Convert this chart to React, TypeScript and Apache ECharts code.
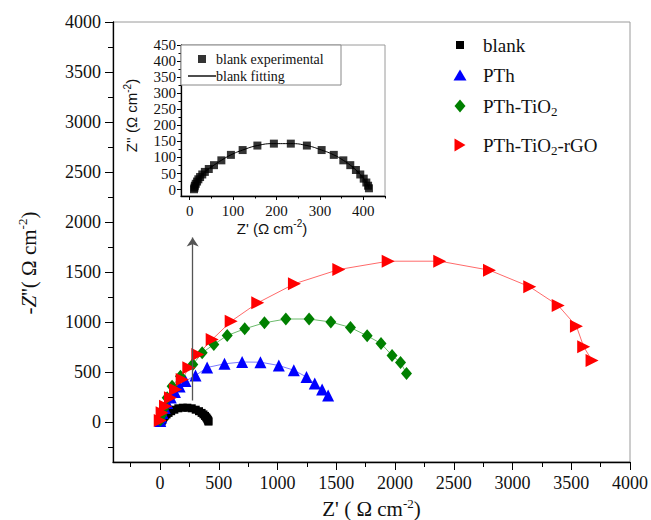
import React, { useEffect, useRef } from "react";
import * as echarts from "echarts";

// ---------- data (Z' , Z'') in Ω cm^-2 ----------
const blankExperimental: number[][] = [
  [10, 1], [11, 6], [12, 12], [14, 18], [17, 25], [20, 32], [24, 39], [29, 47], [35, 55], [44, 64],
  [56, 76], [73, 91], [95, 108], [122, 123], [156, 137], [194, 143], [233, 143], [270, 137],
  [304, 123], [332, 108], [354, 91], [370, 76], [383, 61], [393, 47], [401, 34], [407, 22],
  [411, 12], [413, 4],
];
const blankFitting: number[][] = [
  [10, 1], [12, 12], [17, 25], [24, 39], [35, 55], [56, 76], [73, 91], [95, 108], [122, 123],
  [156, 137], [194, 143], [233, 143], [270, 137], [304, 123], [332, 108], [354, 91], [370, 76],
  [383, 61], [393, 47], [401, 34], [407, 22], [411, 12], [413, 4],
];
const pth: number[][] = [
  [2, 10], [10, 45], [22, 90], [40, 140], [62, 190], [92, 245], [127, 300], [167, 355], [217, 410],
  [302, 465], [401, 545], [549, 582], [699, 600], [855, 598], [1011, 565], [1139, 518], [1247, 450],
  [1317, 385], [1380, 325], [1431, 265],
];
const pthTiO2: number[][] = [
  [3, 20], [15, 70], [32, 135], [61, 242], [103, 358], [174, 458], [279, 575], [359, 692], [458, 775],
  [572, 865], [721, 932], [889, 992], [1071, 1030], [1269, 1030], [1454, 1000], [1621, 945],
  [1763, 862], [1881, 785], [1975, 665], [2047, 595], [2098, 485],
];
const pthTiO2rGO: number[][] = [
  [2, 15], [18, 92], [47, 158], [89, 242], [132, 325], [189, 425], [245, 542], [322, 675], [444, 825],
  [606, 1008], [832, 1192], [1144, 1382], [1522, 1525], [1942, 1608], [2381, 1608], [2804, 1518],
  [3147, 1352], [3389, 1165], [3544, 958], [3606, 752], [3677, 615],
];
const arrowFrom = [278, 215];
const arrowTo = [278, 1845];

// ---------- ticks ----------
const mainTicks = [0, 500, 1000, 1500, 2000, 2500, 3000, 3500, 4000];
const mainMinor = [-250, 250, 750, 1250, 1750, 2250, 2750, 3250, 3750];
const insetXTicks = [0, 100, 200, 300, 400];
const insetXMinor = [50, 150, 250, 350, 450];
const insetYTicks = [0, 50, 100, 150, 200, 250, 300, 350, 400, 450];
const insetYMinor = [25, 75, 125, 175, 225, 275, 325, 375, 425];

const legendNames = ["blank", "PTh", "PTh-TiO2", "PTh-TiO2-rGO"];

const serif = "Liberation Serif";
const sans = "Liberation Sans";

function mkAxis(
  gridIndex: number, min: number, max: number, ticks: number[], position: string,
  isMinor: boolean, extra: any, labelSize: number, tickLen: number, margin: number
) {
  return {
    type: "value", gridIndex, min, max, position, offset: 0,
    axisLine: { show: !isMinor, onZero: false, lineStyle: { color: "#000", width: 1.3 } },
    axisTick: { show: true, inside: false, customValues: ticks, length: tickLen, lineStyle: { color: "#000", width: 1 } },
    axisLabel: isMinor
      ? { show: false }
      : {
          show: true, customValues: ticks, fontSize: labelSize, fontFamily: serif, color: "#111", margin,
          formatter: (v: number) => String(v),
        },
    splitLine: { show: false },
    ...extra,
  };
}

export default function App() {
  const ref = useRef<HTMLDivElement>(null);
  useEffect(() => {
    document.body.style.margin = "0";
    const chart = echarts.init(ref.current!, null, { renderer: "svg" });

    const supMain = { fontSize: 13, fontFamily: serif, padding: [0, 0, 12, 0], color: "#111" };
    const supInset = { fontSize: 10, fontFamily: sans, padding: [0, 0, 9, 0], color: "#111" };
    const subLegend = { fontSize: 13, fontFamily: serif, padding: [10, 0, 0, 0], color: "#111" };

    const legendLabel = (name: string) => {
      if (name === "PTh-TiO2") return "PTh-TiO{sub|2}";
      if (name === "PTh-TiO2-rGO") return "PTh-TiO{sub|2}-rGO";
      return name;
    };
    const legendCenters = [45, 75, 106, 145];
    const legendIcons = ["rect", "triangle", "diamond", "path://M0,0L11,6.5L0,13Z"];
    const legendIconW = [8, 13, 11, 11];
    const legendIconH = [8, 11, 13, 13];

    const mainLegends = legendNames.map((n, i) => ({
      data: [{ name: n, icon: legendIcons[i] }],
      left: 460 - legendIconW[i] / 2,
      top: legendCenters[i] - 11,
      padding: 0,
      itemWidth: legendIconW[i],
      itemHeight: legendIconH[i],
      formatter: legendLabel,
      textStyle: {
        fontSize: 19, fontFamily: serif, color: "#111", lineHeight: 22,
        padding: [0, 0, 0, 483 - (460 + legendIconW[i] / 2) - 5],
        rich: { sub: subLegend },
      },
    }));

    const option: any = {
      animation: false,
      backgroundColor: "#fff",
      textStyle: { fontFamily: serif },
      grid: [
        { left: 113, right: 21, top: 22, bottom: 58, show: true, borderColor: "#9a9a9a", borderWidth: 1, outerBoundsMode: "none" },
        { left: 181, right: 266, top: 45, bottom: 324, show: true, backgroundColor: "#fff", borderColor: "#9a9a9a", borderWidth: 1, outerBoundsMode: "none" },
      ],
      graphic: [
        {
          type: "rect", z: 5, silent: true,
          shape: { x: 181, y: 45, width: 160, height: 40 },
          style: { fill: "#fff", stroke: "#888", lineWidth: 1 },
        },
      ],
      legend: [
        ...mainLegends,
        {
          data: [{ name: "blank experimental", icon: "rect" }],
          left: 198, top: 51, padding: 0, itemWidth: 8, itemHeight: 8, z: 10,
          textStyle: { fontSize: 14, fontFamily: serif, color: "#111", lineHeight: 16, padding: [0, 0, 0, 5] },
        },
        {
          data: [{ name: "blank fitting", icon: "path://M0,0H28V1.4H0Z" }],
          left: 188, top: 68, padding: 0, itemWidth: 28, itemHeight: 1.4, z: 10,
          textStyle: { fontSize: 14, fontFamily: serif, color: "#111", lineHeight: 16, padding: [0, 0, 0, -5] },
        },
      ],
      xAxis: [
        mkAxis(0, -400, 4000, mainTicks, "bottom", false, {
          name: "Z' ( Ω cm{sup|-2})",
          nameLocation: "middle",
          nameGap: 26,
          nameTextStyle: { fontSize: 21, fontFamily: serif, color: "#111", rich: { sup: supMain } },
        }, 18, 8, 12),
        mkAxis(0, -400, 4000, mainMinor, "bottom", true, {}, 18, 5, 12),
        mkAxis(1, -20, 450, insetXTicks, "bottom", false, {
          name: "Z' (Ω cm{sup|-2})",
          nameLocation: "middle",
          nameGap: 22,
          nameTextStyle: { fontSize: 15, fontFamily: sans, color: "#111", padding: [0, 22, 0, 0], rich: { sup: supInset } },
        }, 15, 4, 7),
        mkAxis(1, -20, 450, insetXMinor, "bottom", true, {}, 15, 2.5, 7),
      ],
      yAxis: [
        mkAxis(0, -400, 4000, mainTicks, "left", false, {
          name: "-{i|Z}''( Ω cm{sup|-2})",
          nameLocation: "middle",
          nameRotate: 90,
          nameGap: 72,
          nameTextStyle: {
            fontSize: 21, fontFamily: serif, color: "#111", padding: [0, 42, 0, 0],
            rich: { sup: supMain, i: { fontSize: 21, fontFamily: serif, fontStyle: "italic", color: "#111" } },
          },
        }, 18, 8, 12),
        mkAxis(0, -400, 4000, mainMinor, "left", true, {}, 18, 5, 12),
        mkAxis(1, -20, 450, insetYTicks, "left", false, {
          name: "Z'' (Ω cm{sup|-2})",
          nameLocation: "middle",
          nameRotate: 90,
          nameGap: 40,
          nameTextStyle: { fontSize: 15, fontFamily: sans, color: "#111", padding: [0, 0, 0, 10], rich: { sup: supInset } },
        }, 15, 4, 5),
        mkAxis(1, -20, 450, insetYMinor, "left", true, {}, 15, 2.5, 5),
      ],
      series: [
        {
          name: "blank", type: "line", xAxisIndex: 0, yAxisIndex: 0, data: blankExperimental,
          symbol: "rect", symbolSize: 8, showAllSymbol: true,
          itemStyle: { color: "#000" }, lineStyle: { color: "#000", width: 1 },
          markLine: {
            silent: true, symbol: ["none", "arrow"], symbolSize: 9,
            label: { show: false }, emphasis: { disabled: true },
            lineStyle: { color: "#555", width: 1.3, type: "solid" },
            data: [[{ coord: arrowFrom }, { coord: arrowTo }]],
          },
        },
        {
          name: "PTh", type: "line", xAxisIndex: 0, yAxisIndex: 0, data: pth,
          symbol: "triangle", symbolSize: 12, showAllSymbol: true,
          itemStyle: { color: "#0000ff" }, lineStyle: { color: "#7b7bff", width: 1 },
        },
        {
          name: "PTh-TiO2", type: "line", xAxisIndex: 0, yAxisIndex: 0, data: pthTiO2,
          symbol: "diamond", symbolSize: [11, 13], showAllSymbol: true,
          itemStyle: { color: "#008000" }, lineStyle: { color: "#6dbb6d", width: 1 },
        },
        {
          name: "PTh-TiO2-rGO", type: "line", xAxisIndex: 0, yAxisIndex: 0, data: pthTiO2rGO,
          symbol: "triangle", symbolRotate: -90, symbolSize: 13, showAllSymbol: true,
          itemStyle: { color: "#ff0000" }, lineStyle: { color: "#ff6a6a", width: 1 },
        },
        {
          name: "blank fitting", type: "line", xAxisIndex: 2, yAxisIndex: 2, data: blankFitting,
          smooth: true, symbol: "none", itemStyle: { color: "#000" }, lineStyle: { color: "#000", width: 1 },
        },
        {
          name: "blank experimental", type: "scatter", xAxisIndex: 2, yAxisIndex: 2, data: blankExperimental,
          symbol: "rect", symbolSize: 8, itemStyle: { color: "#000" },
        },
      ],
    };
    chart.setOption(option);
    return () => chart.dispose();
  }, []);
  return <div ref={ref} style={{ width: 651, height: 520 }} />;
}
